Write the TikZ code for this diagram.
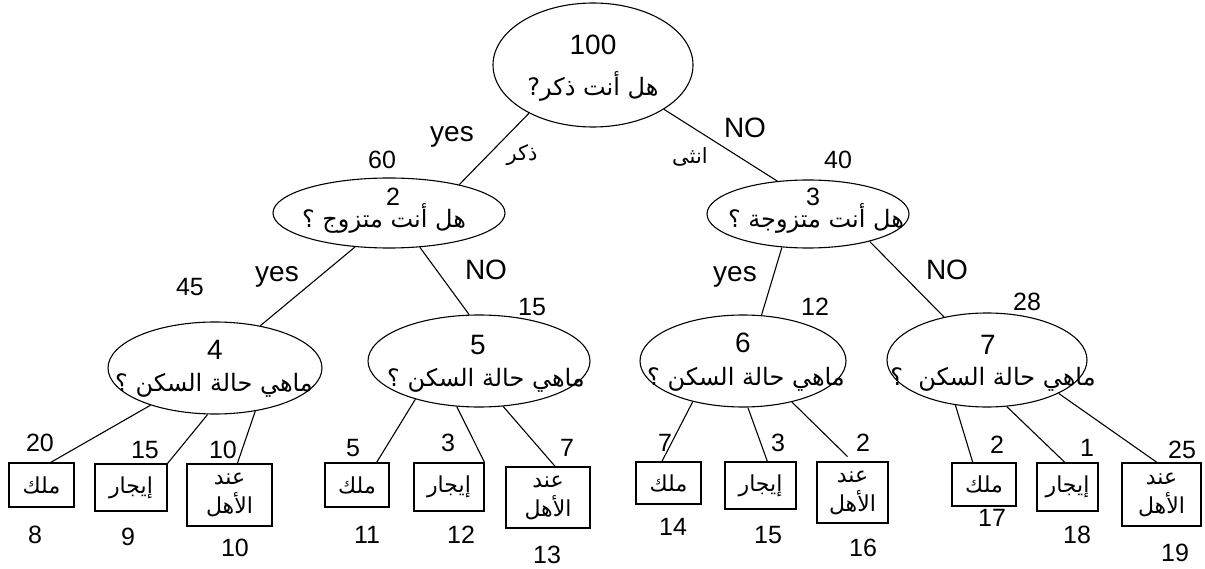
\documentclass[tikz,border=0pt]{standalone}
\usepackage{fontspec}
\setmainfont{Liberation Sans}
\newfontfamily\arabicfont[Script=Arabic]{DejaVu Sans}
\TeXXeTstate=1
\usetikzlibrary{shapes.geometric}
\newcommand{\RTL}[1]{\beginR #1\endR}
\begin{document}
\begin{tikzpicture}[x=1pt,y=-1pt,
 ell/.style={draw,ellipse,inner sep=0pt,line width=1.1pt},
 leaf/.style={draw,rectangle,inner sep=0pt,line width=1.1pt,font=\arabicfont\fontsize{22}{29}\selectfont,align=center},
 num/.style={inner sep=0pt,font=\fontsize{25}{29}\selectfont},
 big/.style={inner sep=0pt,font=\fontsize{28}{32}\selectfont},
 q/.style={inner sep=0pt,font=\arabicfont\fontsize{24}{28}\selectfont},
 small/.style={inner sep=0pt,font=\arabicfont\fontsize{21}{24}\selectfont},
 conn/.style={line width=1.1pt}]
\useasboundingbox (0,0) rectangle (1205,569);
% ellipses
\node[ell,minimum width=200pt,minimum height=124pt] (R) at (593,65) {};
\node[ell,minimum width=232pt,minimum height=70pt] (N2) at (389,213) {};
\node[ell,minimum width=202pt,minimum height=68pt] (N3) at (808,214) {};
\node[ell,minimum width=214pt,minimum height=92pt] (N4) at (215,368) {};
\node[ell,minimum width=222pt,minimum height=92pt] (N5) at (479,361) {};
\node[ell,minimum width=206pt,minimum height=92pt] (N6) at (743,361) {};
\node[ell,minimum width=200pt,minimum height=94pt] (N7) at (987,360) {};
% ellipse texts
\node[big] (tR) at (593,45) {100};
\node[q] (qR) at (593,86) {\RTL{هل أنت ذكر?}};
\node[num] (t2) at (393,197) {2};
\node[q] (q2) at (384,218) {\RTL{هل أنت متزوج ؟}};
\node[num] (t3) at (813,197) {3};
\node[q] (q3) at (816,218) {\RTL{هل أنت متزوجة ؟}};
\node[big] (t4) at (215,350) {4};
\node[q] (q4) at (214,385) {\RTL{ماهي حالة السكن ؟}};
\node[big] (t5) at (478,345) {5};
\node[q] (q5) at (486,380) {\RTL{ماهي حالة السكن ؟}};
\node[big] (t6) at (743,343) {6};
\node[q] (q6) at (746,379) {\RTL{ماهي حالة السكن ؟}};
\node[big] (t7) at (988,345) {7};
\node[q] (q7) at (993,379) {\RTL{ماهي حالة السكن\ \ ؟}};
% leaves
\node[leaf,minimum width=65pt,minimum height=44pt] (B8) at (41.5,485) {\RTL{ملك}};
\node[leaf,minimum width=72pt,minimum height=47pt] (B9) at (131,487.5) {\RTL{إيجار}};
\node[leaf,minimum width=85pt,minimum height=62pt] (B10) at (229.5,495) {\RTL{عند}\\\RTL{الأهل}};
\node[leaf,minimum width=64pt,minimum height=44pt] (B11) at (357,485) {\RTL{ملك}};
\node[leaf,minimum width=70pt,minimum height=48pt] (B12) at (449,487) {\RTL{إيجار}};
\node[leaf,minimum width=84pt,minimum height=61pt] (B13) at (548,497.5) {\RTL{عند}\\\RTL{الأهل}};
\node[leaf,minimum width=65pt,minimum height=42pt] (B14) at (668.5,483) {\RTL{ملك}};
\node[leaf,minimum width=71pt,minimum height=47pt] (B15) at (760.5,485.5) {\RTL{إيجار}};
\node[leaf,minimum width=71pt,minimum height=61pt] (B16) at (852.5,492.5) {\RTL{عند}\\\RTL{الأهل}};
\node[leaf,minimum width=64pt,minimum height=43pt] (B17) at (984,484.5) {\RTL{ملك}};
\node[leaf,minimum width=61pt,minimum height=48pt] (B18) at (1067.5,487) {\RTL{إيجار}};
\node[leaf,minimum width=79pt,minimum height=63pt] (B19) at (1161.5,494.5) {\RTL{عند}\\\RTL{الأهل}};
% connectors
\draw[conn] (R.217.8) -- (N2.22.2);
\draw[conn] (R.328.7) -- (N3.133.2);
\draw[conn] (N2.225.9) -- (N4.43.3);
\draw[conn] (N2.312.4) -- (N5.102.9);
\draw[conn] (N3.232.6) -- (N6.68.6);
\draw[conn] (N3.336.6) -- (N7.135);
\draw[conn] (N4.210.4) -- (B8.68.9);
\draw[conn] (N4.261.3) -- (B9.north east);
\draw[conn] (N4.313.7) -- (B10.76.4);
\draw[conn] (N5.211.5) -- (B11.49.2);
\draw[conn] (N5.244.4) -- (B12.north east);
\draw[conn] (N5.298.1) -- (B13.77.1);
\draw[conn] (N6.219.5) -- (B14.107.2);
\draw[conn] (N6.276.1) -- (B15.74.5);
\draw[conn,shorten >=7pt] (N6.320) -- (B16.north);
\draw[conn] (N7.235.8) -- (B17.117.1);
\draw[conn] (N7.293) -- (B18.96);
\draw[conn] (N7.335.7) -- (B19.98);
% edge labels
\node[big] (lyes1) at (452,137) {yes};
\node[small] (lm) at (522,155) {\RTL{ذكر}};
\node[big] (lno1) at (745,128) {NO};
\node[small] (lf) at (690,157) {\RTL{انثى}};
\node[num] (c60) at (382,160) {60};
\node[num] (c40) at (838,160) {40};
\node[big] (lyes2) at (277,277) {yes};
\node[num] (c45) at (190,287) {45};
\node[big] (lno2) at (486,270) {NO};
\node[num] (c15) at (532,307) {15};
\node[big] (lyes3) at (735,277) {yes};
\node[num] (c12) at (815,307) {12};
\node[big] (lno3) at (947,270) {NO};
\node[num] (c28) at (1027,302) {28};
% leaf counts
\node[num] (c20) at (40,443) {20};
\node[num] (c15b) at (145,450) {15};
\node[num] (c10) at (223,450) {10};
\node[num] (c5) at (353,448) {5};
\node[num] (c3) at (448,443) {3};
\node[num] (c7) at (567,448) {7};
\node[num] (c7b) at (665,443) {7};
\node[num] (c3b) at (778,443) {3};
\node[num] (c2) at (863,443) {2};
\node[num] (c2b) at (997,445) {2};
\node[num] (c1) at (1087,448) {1};
\node[num] (c25) at (1182,450) {25};
% leaf ids
\node[num] (i8) at (35,535) {8};
\node[num] (i9) at (128,537) {9};
\node[num] (i10) at (235,548) {10};
\node[num] (i11) at (367,535) {11};
\node[num] (i12) at (461,535) {12};
\node[num] (i13) at (547,555) {13};
\node[num] (i14) at (673,527) {14};
\node[num] (i15) at (768,535) {15};
\node[num] (i16) at (863,548) {16};
\node[num] (i17) at (992,518) {17};
\node[num] (i18) at (1077,535) {18};
\node[num] (i19) at (1175,553) {19};
\end{tikzpicture}
\end{document}
